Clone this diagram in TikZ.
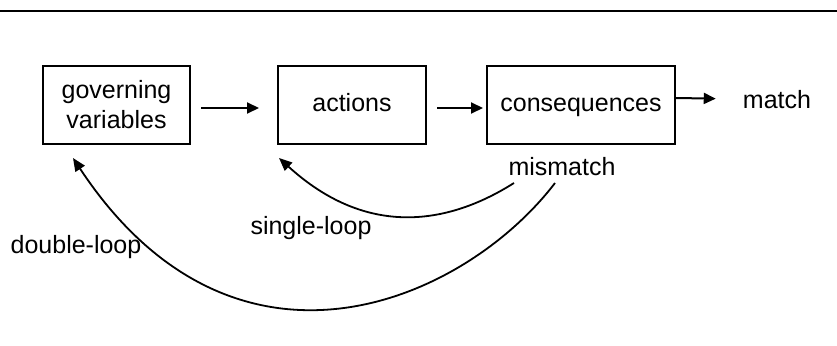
\documentclass[tikz,border=0pt]{standalone}
\usepackage{fontspec}
\setmainfont{Liberation Sans}
\usetikzlibrary{arrows.meta}
\tikzset{
  stepbox/.style={draw, line width=2pt, minimum height=78pt, inner sep=0pt, align=center},
  lbl/.style={inner sep=0pt, anchor=base},
  arr/.style={line width=2pt, -{Triangle[length=12pt,width=11pt]}},
  carr/.style={line width=1.8pt, -{Triangle[length=13pt,width=11pt]}},
}
\begin{document}
\begin{tikzpicture}[x=1pt,y=-1pt,font=\fontsize{25}{30}\selectfont]
\useasboundingbox (0,0) rectangle (837,345);
\draw[line width=2.5pt] (0,11) -- (837,11);
\node[stepbox, minimum width=147pt] (g) at (116.5,105) {governing\\variables};
\node[stepbox, minimum width=148pt, text height=18pt, text depth=5pt] (a) at (352,105) {actions};
\node[stepbox, minimum width=188pt, text height=18pt, text depth=5pt] (c) at (581,105) {consequences};
\node[lbl] (m) at (777,108) {match};
\node[lbl] (mm) at (562,175) {mismatch};
\node[lbl] (sl) at (311,234) {single-loop};
\node[lbl] (dl) at (76,253) {double-loop};
\draw[arr, shorten <=10pt, shorten >=18pt] ([yshift=-3pt]g.east) -- ([yshift=-3pt]a.west);
\draw[arr, shorten <=10pt, shorten >=3pt] ([yshift=-3pt]a.east) -- ([yshift=-3pt]c.west);
\draw[arr, shorten >=27pt] ([yshift=7pt]c.east) -- (m.west);
\coordinate (s1) at (514,183);
\coordinate (s2) at (555,183);
\coordinate (t1) at (279,158);
\coordinate (t2) at (73,158);
\draw[carr] (s1) .. controls (468,212) and (380,250) .. (t1);
\draw[carr] (s2) .. controls (464,302) and (235,403) .. (t2);
\end{tikzpicture}
\end{document}
